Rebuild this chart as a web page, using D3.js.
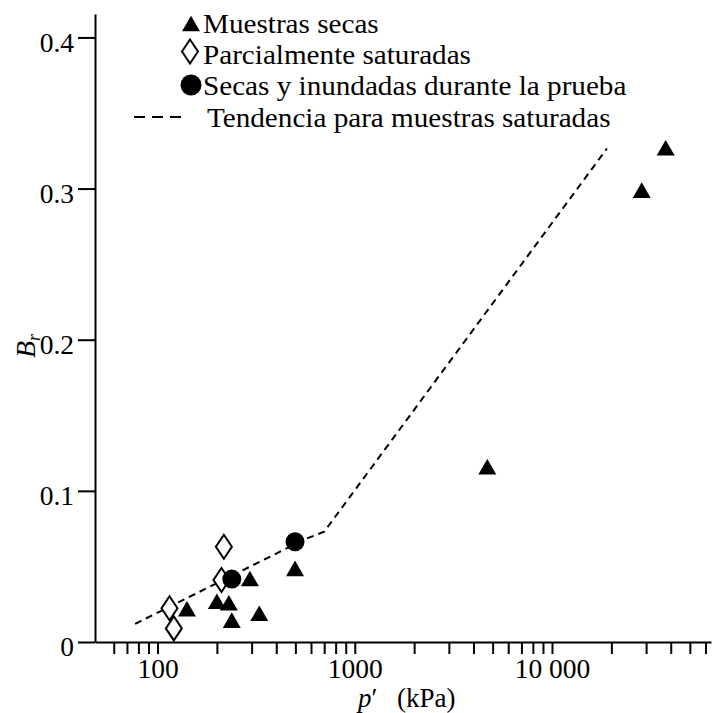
<!DOCTYPE html>
<html>
<head>
<meta charset="utf-8">
<script src="https://cdn.jsdelivr.net/npm/d3@7"></script>
<style>
  body { margin: 0; background: #fff; }
  svg { display: block; }
  svg text { font-family: "Liberation Serif", Tinos, "Times New Roman", Times, serif; fill: #000; }
</style>
</head>
<body>
<svg id="chart" width="712" height="713"></svg>
<script>
// Axis ticks and labels
const xTicks = [60, 70, 80, 90, 100, 200, 300, 400, 500, 600, 700, 800, 900, 1000,
                2000, 3000, 4000, 5000, 6000, 7000, 8000, 9000, 10000,
                20000, 30000, 40000, 50000, 60000];
const xTickLabels = { 100: "100", 1000: "1000", 10000: "10 000" };
const yTicks = [0, 0.1, 0.2, 0.3, 0.4];
const yTickLabels = ["0", "0.1", "0.2", "0.3", "0.4"];

// Muestras secas (p' in kPa, Br)
const secasP  = [141, 200, 230, 238, 294, 328, 498, 4700, 28500, 37700];
const secasBr = [0.022, 0.027, 0.026, 0.0145, 0.042, 0.019, 0.0487, 0.116, 0.299, 0.327];
// Parcialmente saturadas
const parcialP  = [217, 211, 115, 121];
const parcialBr = [0.063, 0.041, 0.0223, 0.009];
// Secas y inundadas durante la prueba
const inundP  = [238, 498];
const inundBr = [0.0416, 0.0663];
// Tendencia para muestras saturadas
const trendP  = [77, 560, 700, 19000];
const trendBr = [0.012, 0.068, 0.073, 0.3265];

const legendItems = [
  { key: "tri",  label: "Muestras secas" },
  { key: "dia",  label: "Parcialmente saturadas" },
  { key: "circ", label: "Secas y inundadas durante la prueba" },
  { key: "dash", label: "Tendencia para muestras saturadas" }
];

const svg = d3.select("#chart");
const TICK_FONT = 27.5;
const LEGEND_FONT = 27;

const x = d3.scaleLog().domain([48.2, 64000]).range([95, 711]);
const y = d3.scaleLinear().domain([0, 0.4155]).range([642, 14]);

// Axes
const xAxis = d3.axisBottom(x)
  .tickValues(xTicks)
  .tickFormat(d => xTickLabels[d] || "")
  .tickSize(12).tickSizeOuter(0).tickPadding(4);
const gx = svg.append("g").attr("transform", `translate(0,${y(0)})`).call(xAxis);

const yAxis = d3.axisLeft(y)
  .tickValues(yTicks)
  .tickFormat((d, i) => yTickLabels[i])
  .tickSize(17).tickSizeOuter(0).tickPadding(4);
const gy = svg.append("g").attr("transform", `translate(${x.range()[0]},0)`).call(yAxis);

[gx, gy].forEach(g => {
  g.attr("font-family", null).attr("font-size", null);
  g.select(".domain").attr("stroke", "#000").attr("stroke-width", 2);
  g.selectAll(".tick line").attr("stroke", "#000").attr("stroke-width", 2);
  g.selectAll(".tick text").attr("font-size", TICK_FONT).attr("fill", "#000");
});
gy.selectAll(".tick text").attr("dy", "0.5em");

// Axis titles
svg.append("text")
  .attr("x", 358).attr("y", 707)
  .attr("font-size", 27)
  .call(t => {
    t.append("tspan").attr("font-style", "italic").text("p");
    t.append("tspan").text("\u2032");
    t.append("tspan").attr("x", 397).text("(kPa)");
  });

svg.append("text")
  .attr("transform", "translate(35,346) rotate(-90)")
  .attr("text-anchor", "middle")
  .attr("font-size", 28)
  .call(t => {
    t.append("tspan").attr("font-style", "italic").text("B");
    t.append("tspan").attr("font-style", "italic").attr("font-size", 18)
      .attr("dy", 5).text("r");
  });

// Trend line
const line = d3.line().x(d => x(d[0])).y(d => y(d[1]));
svg.append("path")
  .datum(trendP.map((p, i) => [p, trendBr[i]]))
  .attr("d", line)
  .attr("fill", "none")
  .attr("stroke", "#000")
  .attr("stroke-width", 2)
  .attr("stroke-dasharray", "7,5");

// Marker shapes
const TRI = 18;                          // side length
const triH = TRI * Math.sqrt(3) / 2;
const triPath = `M0,${-triH / 2}L${TRI / 2},${triH / 2}L${-TRI / 2},${triH / 2}Z`;
const diaPath = "M0,-12L8,0L0,12L-8,0Z";

svg.append("g").selectAll("path")
  .data(parcialP.map((p, i) => [p, parcialBr[i]]))
  .join("path")
  .attr("transform", d => `translate(${x(d[0])},${y(d[1])})`)
  .attr("d", diaPath)
  .attr("fill", "#fff").attr("stroke", "#000").attr("stroke-width", 2);

svg.append("g").selectAll("circle")
  .data(inundP.map((p, i) => [p, inundBr[i]]))
  .join("circle")
  .attr("cx", d => x(d[0])).attr("cy", d => y(d[1]))
  .attr("r", 9.5).attr("fill", "#000");

svg.append("g").selectAll("path")
  .data(secasP.map((p, i) => [p, secasBr[i]]))
  .join("path")
  .attr("transform", d => `translate(${x(d[0])},${y(d[1])})`)
  .attr("d", triPath)
  .attr("fill", "#000");

// Legend
const lg = svg.append("g");
const rowY = [32.5, 63.5, 95, 127];
legendItems.forEach((item, i) => {
  const by = rowY[i];
  if (item.key === "tri") {
    lg.append("path").attr("transform", `translate(191,${by - 9})`).attr("d", triPath).attr("fill", "#000");
  } else if (item.key === "dia") {
    lg.append("path").attr("transform", `translate(190,${by - 12})`).attr("d", diaPath)
      .attr("fill", "#fff").attr("stroke", "#000").attr("stroke-width", 2);
  } else if (item.key === "circ") {
    lg.append("circle").attr("cx", 191).attr("cy", by - 10).attr("r", 10.5).attr("fill", "#000");
  } else {
    lg.append("line").attr("x1", 134).attr("x2", 181).attr("y1", by - 10).attr("y2", by - 10)
      .attr("stroke", "#000").attr("stroke-width", 2).attr("stroke-dasharray", "11,7");
  }
  const tx = item.key === "dash" ? 207 : 203;
  lg.append("text")
    .attr("transform", `translate(${tx},${by}) scale(1.08,1)`)
    .attr("font-size", LEGEND_FONT)
    .text(item.label);
});
</script>
</body>
</html>
